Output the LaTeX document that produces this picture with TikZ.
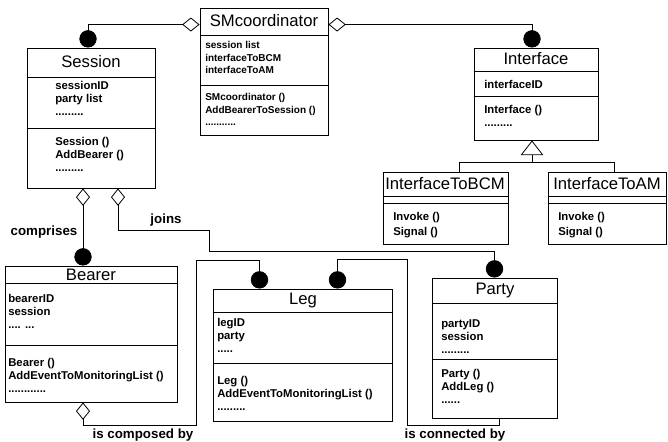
\documentclass[tikz,border=0pt]{standalone}
\usepackage{fontspec}
\setmainfont{Liberation Sans}
\usetikzlibrary{arrows.meta,calc,fit}

\begin{document}
\begin{tikzpicture}[x=0.75pt,y=-0.75pt,
  classbox/.style={draw,line width=0.7pt,inner sep=0pt},
  classname/.style={font=\fontsize{12.5}{14}\selectfont,inner sep=0pt},
  members/.style={font=\fontsize{8.5}{9.75}\selectfont\bfseries,align=left,inner sep=0pt,anchor=north west},
  smallmembers/.style={font=\fontsize{7.5}{9.4}\selectfont\bfseries,align=left,inner sep=0pt,anchor=north west},
  rolelabel/.style={font=\fontsize{10}{12}\selectfont\bfseries,inner sep=0pt},
  aggr/.style={line width=0.6pt,{Diamond[open,length=13pt,width=10.5pt]}-{Circle[length=13pt]}},
  assoc/.style={line width=0.6pt,-{Circle[length=13pt]}},
  inherit/.style={line width=0.6pt,-{Triangle[open,length=11pt,width=17pt]}}]
\useasboundingbox (0,0) rectangle (668,442);

% SMcoordinator
\node[classbox,fit={(200,8) (328,135)}] (sm) {};
\draw[line width=0.7pt] (sm.west |- 0,35) -- (sm.east |- 0,35);
\draw[line width=0.7pt] (sm.west |- 0,85) -- (sm.east |- 0,85);
\node[classname] (smname) at (264,21) {SMcoordinator};
\node[smallmembers] (smattr) at (205,41) {session list\\interfaceToBCM\\interfaceToAM};
\node[smallmembers] (smops) at (205,93) {SMcoordinator ()\\AddBearerToSession ()\\...........};

% Session
\node[classbox,fit={(27,48) (155,188)}] (session) {};
\draw[line width=0.7pt] (session.west |- 0,77) -- (session.east |- 0,77);
\draw[line width=0.7pt] (session.west |- 0,128) -- (session.east |- 0,128);
\node[classname] (sessionname) at (91,62) {Session};
\node[members] (sessionattr) at (55,81) {sessionID\\party list\\.........};
\node[members] (sessionops) at (55,137) {Session ()\\AddBearer ()\\.........};

% Interface
\node[classbox,fit={(474,48) (598,140)}] (iface) {};
\draw[line width=0.7pt] (iface.west |- 0,71) -- (iface.east |- 0,71);
\draw[line width=0.7pt] (iface.west |- 0,96) -- (iface.east |- 0,96);
\node[classname] (ifacename) at (536,59) {Interface};
\node[members] (ifaceattr) at (484,80) {interfaceID};
\node[members] (ifaceops) at (484,105) {Interface ()\\.........};

% subclasses of Interface
\node[classbox,fit={(383,172) (508,244)}] (bcm) {};
\draw[line width=0.7pt] (bcm.west |- 0,196) -- (bcm.east |- 0,196);
\draw[line width=0.7pt] (bcm.west |- 0,203) -- (bcm.east |- 0,203);
\node[classname] (bcmname) at (445,184) {InterfaceToBCM};
\node[members,font=\fontsize{8.5}{11}\selectfont\bfseries] (bcmops) at (393,212) {Invoke ()\\Signal ()};

\node[classbox,fit={(548,172) (666,244)}] (am) {};
\draw[line width=0.7pt] (am.west |- 0,196) -- (am.east |- 0,196);
\draw[line width=0.7pt] (am.west |- 0,203) -- (am.east |- 0,203);
\node[classname] (amname) at (607,184) {InterfaceToAM};
\node[members,font=\fontsize{8.5}{11}\selectfont\bfseries] (amops) at (558,212) {Invoke ()\\Signal ()};

% Bearer
\node[classbox,fit={(5,266) (177,402)}] (bearer) {};
\draw[line width=0.7pt] (bearer.west |- 0,283) -- (bearer.east |- 0,283);
\draw[line width=0.7pt] (bearer.west |- 0,345) -- (bearer.east |- 0,345);
\node[classname] (bearername) at (91,275) {Bearer};
\node[members] (bearerattr) at (8,294) {bearerID\\session\\.... ...};
\node[members] (bearerops) at (8,358) {Bearer ()\\AddEventToMonitoringList ()\\............};

% Leg
\node[classbox,fit={(213,289) (392,421)}] (leg) {};
\draw[line width=0.7pt] (leg.west |- 0,312) -- (leg.east |- 0,312);
\draw[line width=0.7pt] (leg.west |- 0,363) -- (leg.east |- 0,363);
\node[classname] (legname) at (303,300) {Leg};
\node[members] (legattr) at (217,318) {legID\\party\\.....};
\node[members] (legops) at (217,376) {Leg ()\\AddEventToMonitoringList ()\\.........};

% Party
\node[classbox,fit={(432,278) (557,418)}] (party) {};
\draw[line width=0.7pt] (party.west |- 0,303) -- (party.east |- 0,303);
\draw[line width=0.7pt] (party.west |- 0,359) -- (party.east |- 0,359);
\node[classname] (partyname) at (495,290) {Party};
\node[members] (partyattr) at (441,319) {partyID\\session\\.........};
\node[members] (partyops) at (441,369) {Party ()\\AddLeg ()\\......};

% aggregations
\draw[aggr] ($(sm.north west)+(0,17)$) -| ($(session.north)+(-3,0)$);
\draw[aggr] ($(sm.north east)+(0,17)$) -| ($(iface.north)+(-4,0)$);
\draw[aggr] ($(session.south)+(-8,0)$) -- ($(bearer.north)+(-8,0)$);
\draw[aggr] ($(session.south)+(27,0)$) -- ++(0,42) -| ++(91,21) -| (party.north);
\draw[aggr] ($(bearer.south)+(-8,0)$) -- ++(0,23) -| ($(leg.north)+(-106,-28)$) -| ($(leg.north)+(-43,0)$);
\draw[assoc] ($(party.south)+(5,0)$) -- ++(0,7) -| ($(leg.north)+(105,-29)$) -| ($(leg.north)+(35,0)$);

% inheritance
\coordinate (genjoin) at ($(iface.south)+(-4,22)$);
\draw[inherit] (genjoin) -- ($(iface.south)+(-4,0)$);
\draw[line width=0.6pt] ($(bcm.north)+(14,0)$) |- (genjoin) -| ($(am.north)+(7,0)$);

% labels
\node[rolelabel] (comprises) at (44,232) {comprises};
\node[rolelabel] (joins) at (166,220) {joins};
\node[rolelabel] (composed) at (143,435) {is composed by};
\node[rolelabel] (connected) at (455,435) {is connected by};
\end{tikzpicture}
\end{document}
